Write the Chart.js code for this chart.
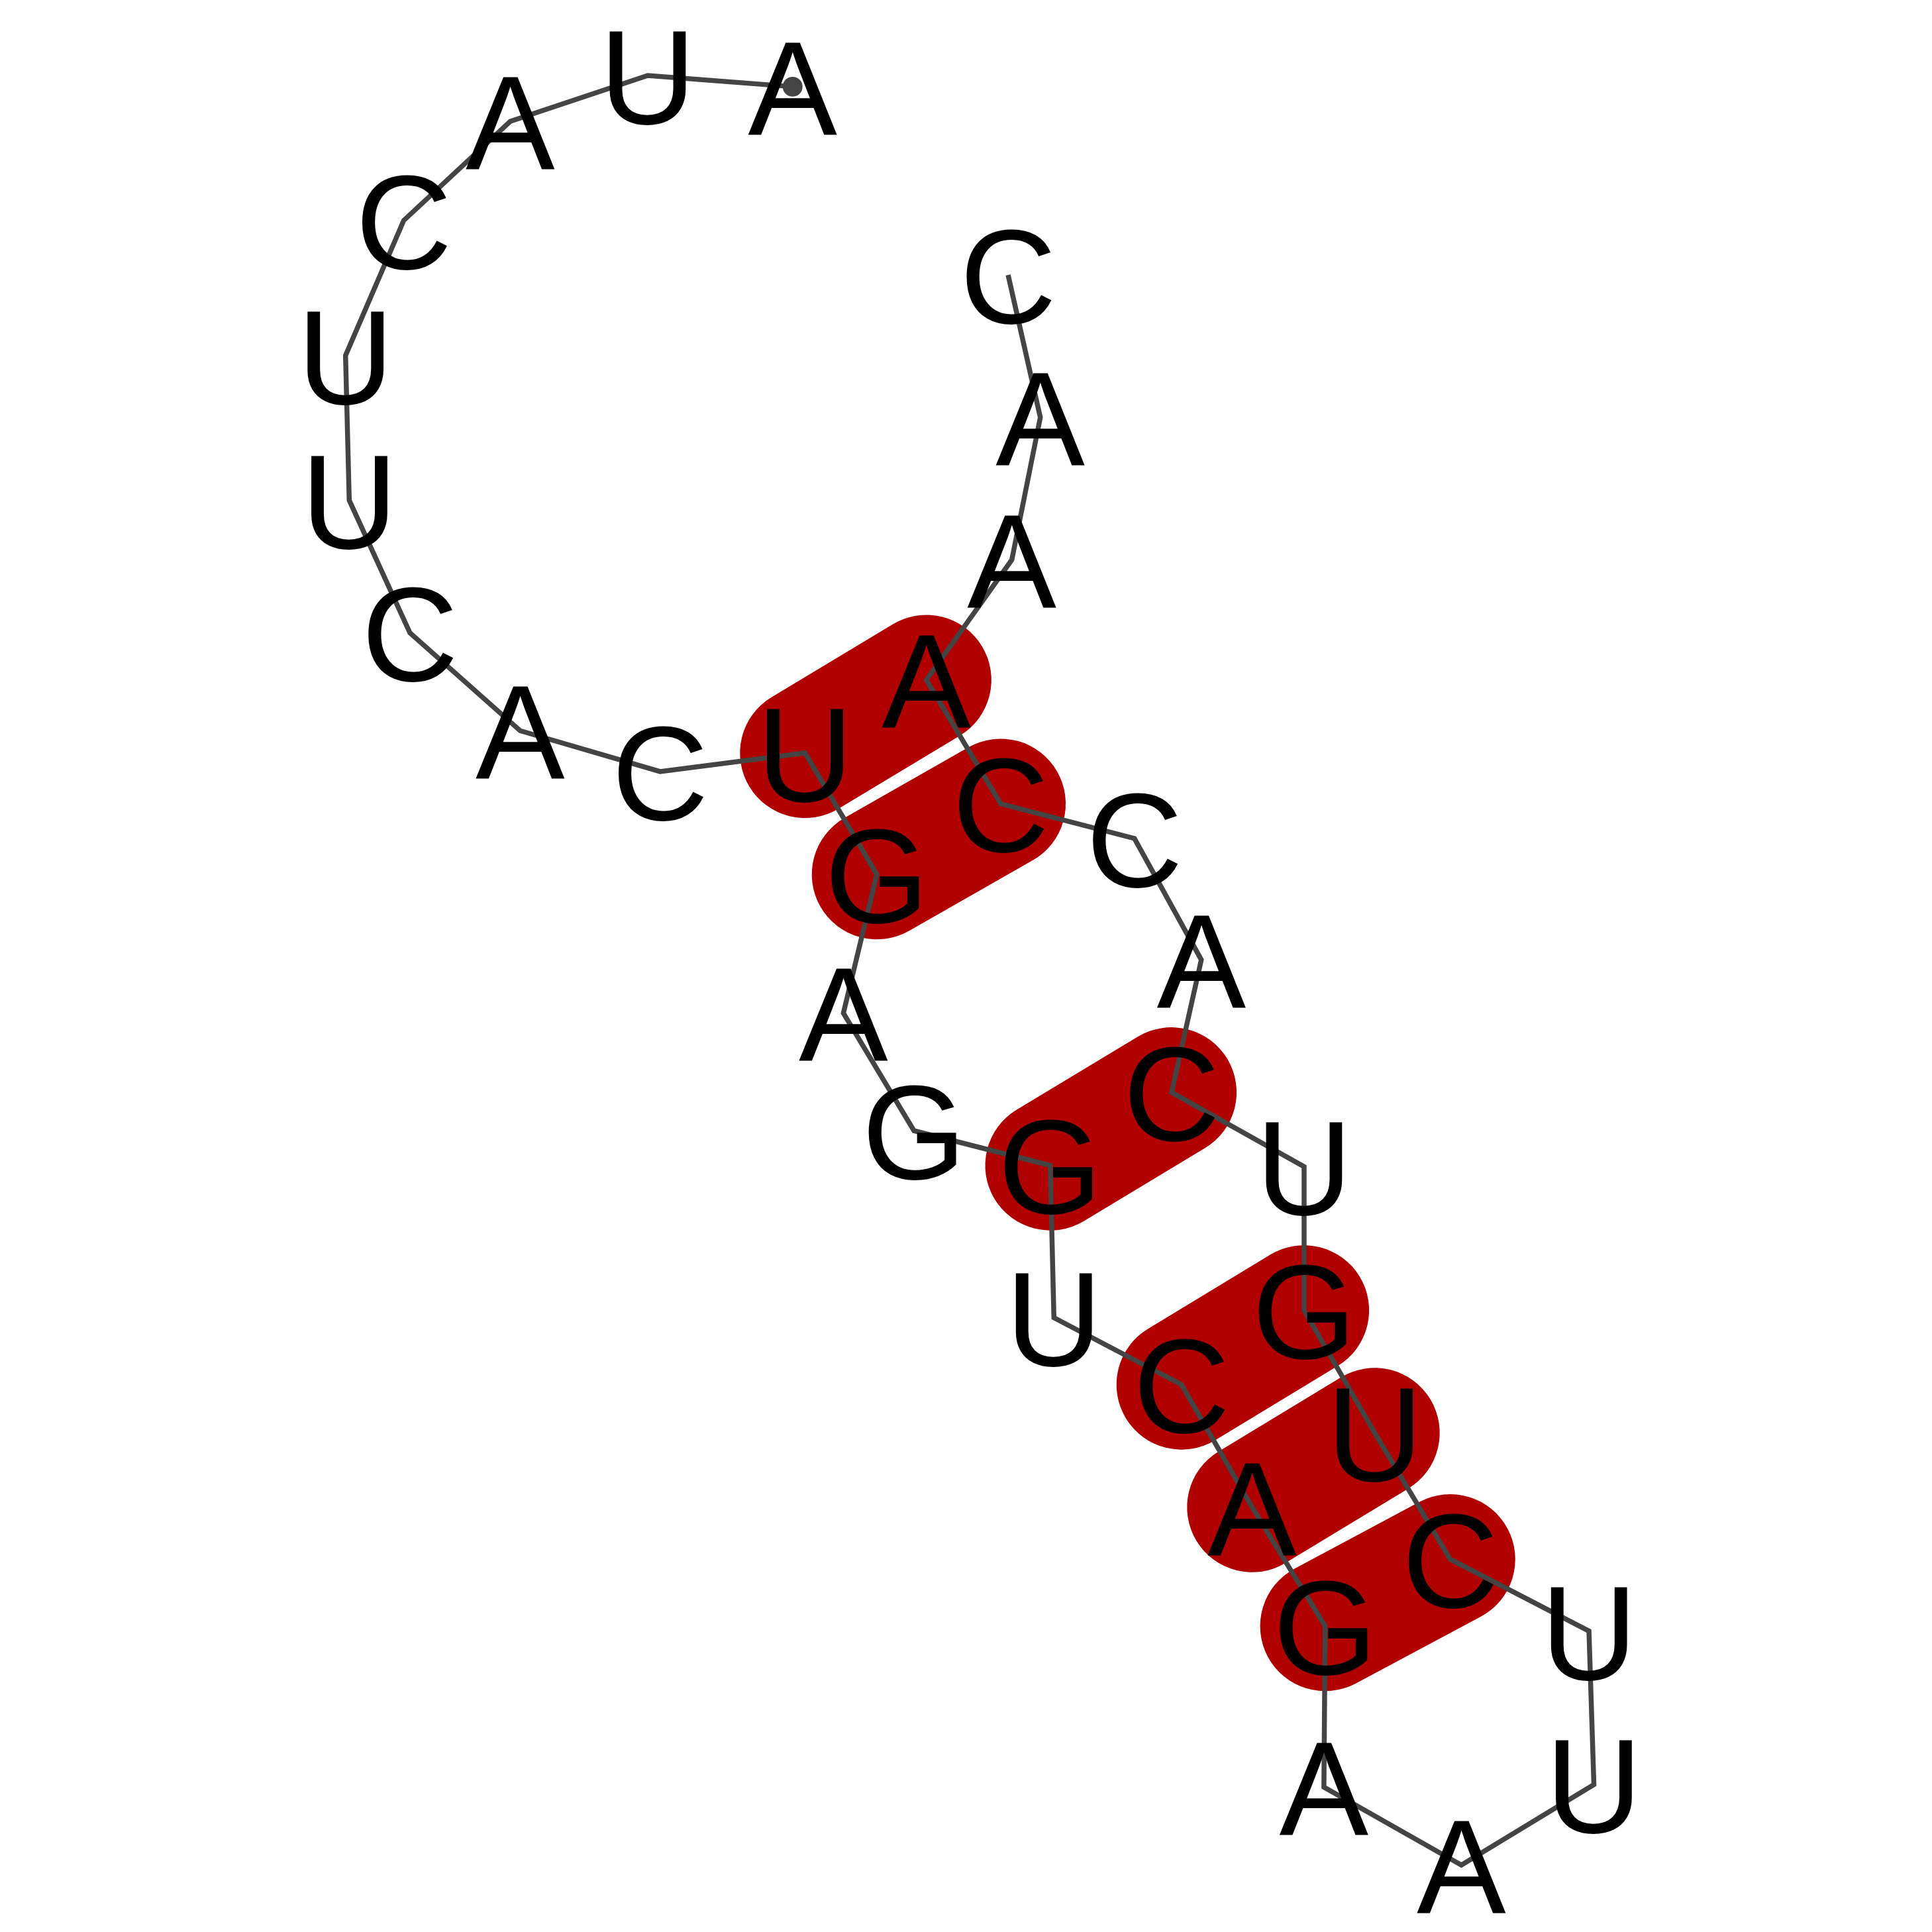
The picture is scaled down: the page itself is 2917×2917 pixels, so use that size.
<!DOCTYPE html>
<html><head><meta charset="utf-8">
<script src="https://cdn.jsdelivr.net/npm/chart.js@4"></script>
<style>html,body{margin:0;padding:0;background:#fff}</style>
</head><body>
<canvas id="c" width="2917" height="2917"></canvas>
<script>
const bases = ["A","U","A","C","U","U","C","A","C","U","G","A","G","G","U","C","A","G","A","A","U","U","C","U","G","U","C","A","C","C","A","A","A","C"];
const xs = [640,523,412,326,279,282,331,420,533,650,708,681,738,848,851,954,1011,1070,1069,1180,1287,1283,1171,1110,1053,1053,946,970,916,808,748,817,840,814];
const ys = [70,61,98,178,287,404,511,590,623,608,706,818,913,941,1064,1118,1217,1313,1443,1506,1441,1317,1259,1157,1058,942,882,775,677,649,549,452,337,222];
const pairs = [[10,31],[11,30],[14,27],[16,25],[17,24],[18,23]];
const S = 2917/1560;

const pts = bases.map((b,i)=>({x:xs[i],y:ys[i]}));
const plugin = {
  id:'rna',
  beforeDatasetsDraw(ch){
    const c=ch.ctx, sx=ch.scales.x, sy=ch.scales.y;
    c.save(); c.strokeStyle='#b10000'; c.lineCap='round'; c.lineWidth=105*S;
    pairs.forEach(([a,b])=>{c.beginPath();c.moveTo(sx.getPixelForValue(xs[a-1]),sy.getPixelForValue(ys[a-1]));c.lineTo(sx.getPixelForValue(xs[b-1]),sy.getPixelForValue(ys[b-1]));c.stroke();});
    c.strokeStyle='#ffffff'; c.lineWidth=4*S;
    c.restore();
  },
  afterDatasetsDraw(ch){
    const c=ch.ctx, sx=ch.scales.x, sy=ch.scales.y;
    c.save();
    c.fillStyle='#444';c.beginPath();c.arc(sx.getPixelForValue(xs[0]),sy.getPixelForValue(ys[0]),8*S,0,Math.PI*2);c.fill();
    c.fillStyle='#000'; c.font=(108*S)+'px "Liberation Sans", Arial, sans-serif';
    c.textAlign='center'; c.textBaseline='alphabetic';
    bases.forEach((b,i)=>{c.fillText(b,sx.getPixelForValue(xs[i]),sy.getPixelForValue(ys[i])+39*S);});
    c.restore();
  }
};
new Chart(document.getElementById('c'),{
  type:'scatter',
  data:{datasets:[{data:pts,showLine:true,borderColor:'#444',borderWidth:4*S,pointRadius:0,tension:0}]},
  options:{responsive:false,devicePixelRatio:1,animation:false,
    layout:{padding:0},
    plugins:{legend:{display:false},tooltip:{enabled:false}},
    scales:{x:{display:false,min:0,max:1560},y:{display:false,min:0,max:1560,reverse:true}}},
  plugins:[plugin]
});
</script>
</body></html>
